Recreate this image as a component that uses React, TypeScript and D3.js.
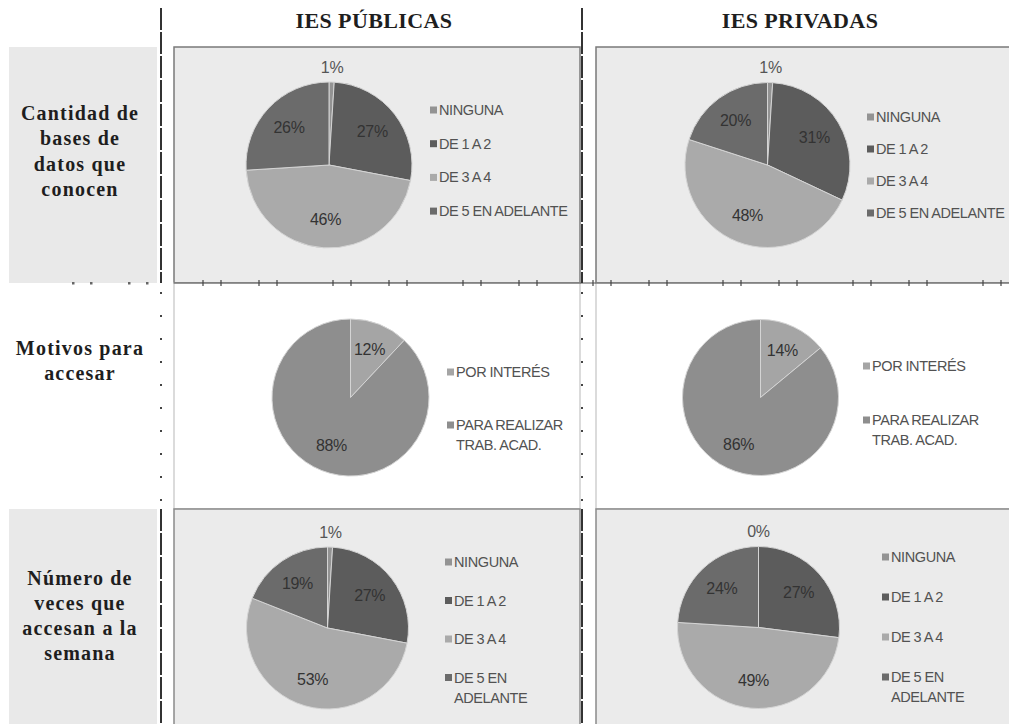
import React from "react";
import * as d3 from "d3";

// Column and row headings
const columnHeaders = ["IES PÚBLICAS", "IES PRIVADAS"];
const rowTitles = [
  ["Cantidad de", "bases de", "datos que", "conocen"],
  ["Motivos para", "accesar"],
  ["Número de", "veces que", "accesan a la", "semana"],
];

// Cantidad de bases de datos que conocen (%)
const basesCategories = ["NINGUNA", "DE 1 A 2", "DE 3 A 4", "DE 5 EN ADELANTE"];
const basesPublicas = [1, 27, 46, 26];
const basesPrivadas = [1, 31, 48, 20];

// Motivos para accesar (%)
const motivosCategories = ["POR INTERÉS", "PARA REALIZAR\nTRAB. ACAD."];
const motivosPublicas = [12, 88];
const motivosPrivadas = [14, 86];

// Número de veces que accesan a la semana (%)
const vecesCategories = ["NINGUNA", "DE 1 A 2", "DE 3 A 4", "DE 5 EN\nADELANTE"];
const vecesPublicas = [1, 27, 53, 19];
const vecesPrivadas = [0, 27, 49, 24];

const fourColors = ["#939393", "#5c5c5c", "#aaaaaa", "#6b6b6b"];
const twoColors = ["#a5a5a5", "#8e8e8e"];

const W = 1009;
const H = 724;
const SANS = "'Liberation Sans', Arial, sans-serif";
const SERIF = "'Liberation Serif', 'Times New Roman', serif";

type Cell = {
  cats: string[];
  values: number[];
  colors: string[];
  cx: number;
  cy: number;
  r: number;
  lx: number;
  ly: number;
  step: number;
};

const cells: Cell[] = [
  { cats: basesCategories, values: basesPublicas, colors: fourColors, cx: 329, cy: 165, r: 83, lx: 430, ly: 110, step: 33.7 },
  { cats: basesCategories, values: basesPrivadas, colors: fourColors, cx: 767.5, cy: 165, r: 82.5, lx: 867, ly: 117, step: 32 },
  { cats: motivosCategories, values: motivosPublicas, colors: twoColors, cx: 350.5, cy: 397.5, r: 78.5, lx: 447, ly: 372, step: 53 },
  { cats: motivosCategories, values: motivosPrivadas, colors: twoColors, cx: 760.5, cy: 397.5, r: 78, lx: 863, ly: 366, step: 54 },
  { cats: vecesCategories, values: vecesPublicas, colors: fourColors, cx: 327.5, cy: 628, r: 81, lx: 445, ly: 562, step: 38.5 },
  { cats: vecesCategories, values: vecesPrivadas, colors: fourColors, cx: 758.5, cy: 627.5, r: 81, lx: 882, ly: 557, step: 40 },
];

function PieCell({ cell }: { cell: Cell }) {
  const pie = d3.pie<number>().sort(null).value((d) => d);
  const arcs = pie(cell.values);
  const arc = d3.arc<d3.PieArcDatum<number>>().innerRadius(0).outerRadius(cell.r);
  const inner = d3
    .arc<d3.PieArcDatum<number>>()
    .innerRadius(cell.r * 0.66)
    .outerRadius(cell.r * 0.66);
  const outer = d3
    .arc<d3.PieArcDatum<number>>()
    .innerRadius(cell.r + 15)
    .outerRadius(cell.r + 15);

  return (
    <g>
      <g transform={`translate(${cell.cx},${cell.cy})`}>
        {arcs.map((a, i) => (
          <path key={i} d={arc(a) || ""} fill={cell.colors[i]} stroke="#d4d4d4" strokeWidth={1} />
        ))}
        {arcs.map((a, i) => {
          const small = a.data < 5;
          const [x, y] = small ? outer.centroid(a) : inner.centroid(a);
          return (
            <text
              key={"l" + i}
              x={x}
              y={y}
              textAnchor="middle"
              dominantBaseline="central"
              fontFamily={SANS}
              fontSize={16}
              letterSpacing={-0.3}
              fill={small ? "#555" : "#333"}
            >
              {`${a.data}%`}
            </text>
          );
        })}
      </g>
      {cell.cats.map((c, i) => {
        const y = cell.ly + i * cell.step;
        const lines = c.split("\n");
        return (
          <g key={"g" + i}>
            <rect x={cell.lx} y={y - 3.5} width={7} height={7} fill={cell.colors[i]} />
            {lines.map((ln, j) => (
              <text
                key={j}
                x={cell.lx + 9}
                y={y + j * 20}
                dominantBaseline="central"
                fontFamily={SANS}
                fontSize={14.5}
                letterSpacing={-0.4}
                wordSpacing={-0.4}
                fill="#525252"
              >
                {ln}
              </text>
            ))}
          </g>
        );
      })}
    </g>
  );
}

export default function App() {
  const row1 = { y0: 47, y1: 283 };
  const row2 = { y0: 283, y1: 509 };
  const row3 = { y0: 509, y1: H + 4 };
  const panelsX = [
    { x0: 174, x1: 580 },
    { x0: 596, x1: W + 4 },
  ];
  const colCenters = [374, 800];

  // tick pairs along the separator between first and second rows
  const tickBases = d3.range(-1, 7).flatMap((k) => [203 + 130 * k, 259 + 130 * k]);
  const ticks = tickBases.flatMap((b) => [b, b + 18]).filter((x) => x > 4 && x < W);

  const dividerXs = [161, 582];

  return (
    <div style={{ position: "absolute", left: 0, top: 0, width: W, height: H, background: "#fff" }}>
      <svg width={W} height={H} viewBox={`0 0 ${W} ${H}`} style={{ display: "block" }}>
        <rect x={0} y={0} width={W} height={H} fill="#ffffff" />

        {/* row label backgrounds */}
        <rect x={9} y={row1.y0} width={148} height={row1.y1 - row1.y0} fill="#e9e9e9" />
        <rect x={9} y={row3.y0} width={148} height={row3.y1 - row3.y0} fill="#e9e9e9" />

        {/* chart panels */}
        {panelsX.map((p, i) => (
          <g key={"p" + i}>
            <rect x={p.x0} y={row1.y0} width={p.x1 - p.x0} height={row1.y1 - row1.y0} fill="#ebebeb" stroke="#7a7a7a" strokeWidth={1.5} />
            <rect x={p.x0} y={row2.y0} width={p.x1 - p.x0} height={row2.y1 - row2.y0} fill="#ffffff" stroke="#c4c4c4" strokeWidth={1.2} />
            <rect x={p.x0} y={row3.y0} width={p.x1 - p.x0} height={row3.y1 - row3.y0} fill="#ebebeb" stroke="#8a8a8a" strokeWidth={1.5} />
          </g>
        ))}

        {/* separator with tick marks */}
        <line x1={174} x2={W} y1={283} y2={283} stroke="#555" strokeWidth={1.2} />
        {ticks.map((x, i) =>
          x > 170 ? (
            <line key={"t" + i} x1={x} x2={x} y1={280} y2={286} stroke="#444" strokeWidth={1.2} />
          ) : (
            <rect key={"t" + i} x={x - 1} y={282} width={2.5} height={2.5} fill="#666" />
          )
        )}

        {/* vertical dividers */}
        {dividerXs.map((x, i) => (
          <g key={"v" + i}>
            <line x1={x} x2={x} y1={8} y2={283} stroke="#333" strokeWidth={2} strokeDasharray="22 2" />
            <line x1={x} x2={x} y1={292} y2={505} stroke="#444" strokeWidth={2} strokeDasharray="2 21" />
            <line x1={x} x2={x} y1={509} y2={H} stroke="#333" strokeWidth={2} strokeDasharray="22 2" />
          </g>
        ))}

        {/* column headers */}
        {columnHeaders.map((h, i) => (
          <text
            key={"h" + i}
            x={colCenters[i]}
            y={28}
            textAnchor="middle"
            fontFamily={SERIF}
            fontWeight="bold"
            fontSize={22}
            letterSpacing={0.4}
            fill="#1e1e1e"
          >
            {h}
          </text>
        ))}

        {/* row titles */}
        {rowTitles.map((lines, i) => {
          const mid = [151, 360.5, 615.5][i];
          return lines.map((ln, j) => (
            <text
              key={`r${i}-${j}`}
              x={80}
              y={mid + (j - (lines.length - 1) / 2) * 25.3}
              textAnchor="middle"
              dominantBaseline="central"
              fontFamily={SERIF}
              fontWeight="bold"
              fontSize={20}
              letterSpacing={1.2}
              fill="#1e1e1e"
            >
              {ln}
            </text>
          ));
        })}

        {cells.map((c, i) => (
          <PieCell key={"c" + i} cell={c} />
        ))}
      </svg>
    </div>
  );
}
